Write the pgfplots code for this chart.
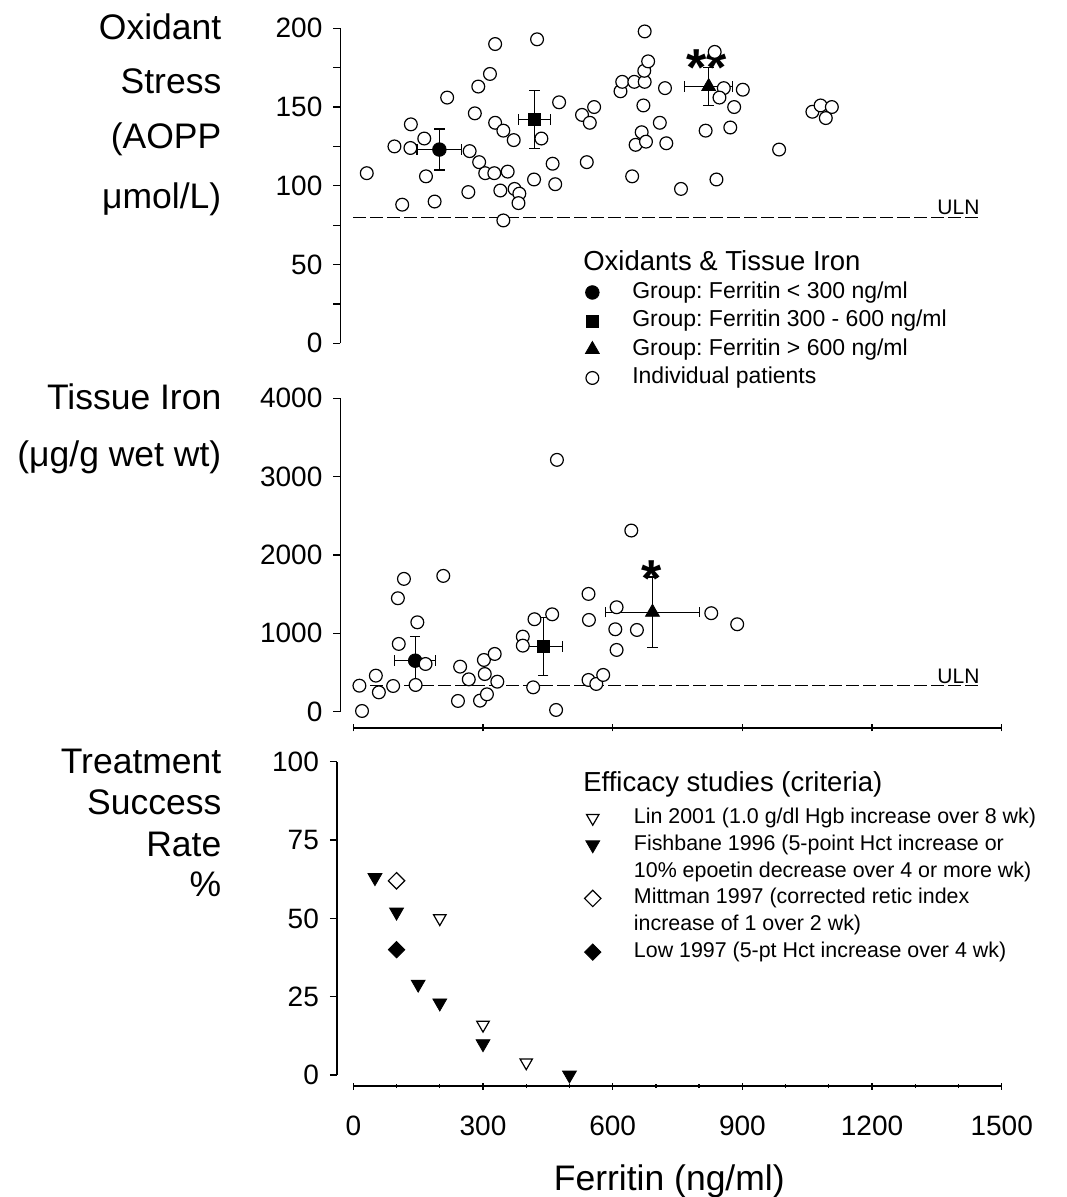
\documentclass[border=0pt]{standalone}
\usepackage{fontspec}
\setmainfont{Liberation Sans}
\usepackage{pgfplots}
\pgfplotsset{compat=1.18}

% 1 px of the reference = 0.5pt
\pgfplotsset{
  panel/.style={scale only axis, clip=false, anchor=south west,
    axis y line=left, axis line style={draw=none,-},
    tick align=outside, major tick length=3.5pt, minor tick length=2pt,
    every tick/.style={black,line width=0.65pt},
    /pgf/number format/assume math mode=true,
    /pgf/number format/1000 sep={},
    tick label style={font=\fontsize{14}{16}\selectfont},
    yticklabel style={xshift=-2pt},
    xticklabel style={yshift=-9.5pt},
    legend image code/.code={\draw[##1] plot coordinates {(0pt,0pt)};},
  },
  indiv/.style={forget plot, only marks, mark=*, mark size=3.2pt,
    mark options={fill=white, draw=black, line width=0.6pt}},
  grp/.style={forget plot, only marks, black,
    error bars/x dir=both, error bars/x explicit,
    error bars/y dir=both, error bars/y explicit,
    error bars/error bar style={line width=0.6pt, black},
    error bars/error mark options={rotate=90, mark size=2.6pt, line width=0.6pt, black}},
  uln/.style={forget plot, black, line width=0.5pt, dash pattern=on 6.5pt off 2pt},
  linmk/.style={only marks, mark=triangle, mark size=3.6pt,
    mark options={rotate=180, black, line width=0.6pt}},
  fishmk/.style={only marks, mark=triangle*, mark size=4pt, mark options={rotate=180, black}},
  mittmk/.style={only marks, mark=square, mark size=2.9pt,
    mark options={rotate=45, black, line width=0.6pt}},
  lowmk/.style={only marks, mark=square*, mark size=2.9pt, mark options={rotate=45, black}},
}
\newcommand{\ttl}{\fontsize{17.75}{20}\selectfont}

\begin{document}
\frenchspacing
\begin{tikzpicture}
\useasboundingbox (0pt,0pt) rectangle (533pt,598.5pt);

% ---------------- top: oxidant stress ----------------
\begin{axis}[panel, at={(170.2pt,426.85pt)}, width=330.65pt, height=157.5pt,
  axis x line=none, xmin=-30, xmax=1500, ymin=0, ymax=200,
  ytick={0,50,...,200}, minor ytick={25,75,125,175}, minor tick length=3.5pt,
  legend style={draw=none, fill=none, at={(axis cs:536,39.5)}, anchor=north west,
    inner sep=0pt, row sep=3.25pt, column sep=16.5pt,
    font=\fontsize{11.5}{13}\selectfont,
    nodes={inner sep=0pt, text height=8.5pt, text depth=2.5pt}},
  legend cell align=left]
  \draw[line width=0.65pt] (axis cs:-30,0) -- (axis cs:-30,200);
  \addplot[uln] coordinates {(0,80) (1454,80)};
  \addplot[grp, mark=*, mark size=3.4pt] coordinates {(199,123) +- (52,13)};
  \addplot[grp, mark=square*, mark size=3pt] coordinates {(419,142) +- (37,18.5)};
  \addplot[grp, mark=triangle*, mark size=4pt] coordinates {(822,163) +- (55,12)};
  \addplot[indiv] coordinates {
    (31,108) (95,125) (133,139) (132,124) (164,130) (168,106) (113,88) (188,90)
    (217,156) (269,122) (266,96) (281,146) (289,163) (291,115) (305,108) (316,171)
    (328,190) (328,140) (326,108) (347,135) (357,109) (340,97) (347,78) (371,129)
    (373,98) (384,95) (382,89) (425,193) (435,130) (418,104) (476,153) (461,114)
    (467,101) (529,145) (557,150) (547,140) (540,115) (618,160) (622,166) (650,166)
    (674,166) (673,173) (682,179) (674,198) (671,151) (721,162) (667,134) (653,126)
    (677,128) (709,140) (724,127) (645,106) (758,98) (815,135) (840,104) (836,185)
    (857,162) (847,156) (881,150) (872,137) (901,161) (985,123) (1062,147) (1081,151)
    (1107,150) (1093,143)};
  \node[anchor=base, font=\fontsize{26}{26}\bfseries, inner sep=0pt] at (axis cs:817,163.5) {**};
  \node[anchor=south east, inner sep=1pt, font=\fontsize{10.5}{12}\selectfont] at (axis cs:1454,80) {ULN};
  \node[anchor=west, inner sep=0pt, font=\fontsize{13.75}{15}\selectfont] at (axis cs:531,52.5) {Oxidants \& Tissue Iron};
  \addlegendimage{only marks, mark=*, black, mark size=3.4pt}
  \addlegendentry{Group: Ferritin < 300 ng/ml}
  \addlegendimage{only marks, mark=square*, black, mark size=3pt}
  \addlegendentry{Group: Ferritin 300 - 600 ng/ml}
  \addlegendimage{only marks, mark=triangle*, black, mark size=4pt}
  \addlegendentry{Group: Ferritin > 600 ng/ml}
  \addlegendimage{only marks, mark=*, mark size=3.2pt, mark options={fill=white, draw=black, line width=0.6pt}}
  \addlegendentry{Individual patients}
\end{axis}

% ---------------- middle: tissue iron ----------------
\begin{axis}[panel, at={(170.2pt,234.5pt)}, width=330.65pt, height=164.85pt,
  axis x line=bottom, xmin=-30, xmax=1500, ymin=-208, ymax=4000,
  ytick={0,1000,...,4000}, xtick={0,300,...,1500}, xticklabels={,,,,,}]
  \draw[line width=0.65pt] (axis cs:-30,0) -- (axis cs:-30,4000);
  \draw[line width=0.65pt] (axis cs:0,-208) -- (axis cs:1500,-208);
  \addplot[uln] coordinates {(0,332) (1454,332)};
  \addplot[grp, mark=*, mark size=3.4pt] coordinates {(143,651) +- (47,305)};
  \addplot[grp, mark=square*, mark size=3pt] coordinates {(439,830) +- (44,372)};
  \addplot[grp, mark=triangle*, mark size=4pt] coordinates {(692,1269) +- (108,449)};
  \addplot[indiv] coordinates {
    (14,332) (20,9) (52,460) (59,247) (92,328) (103,1448) (117,1695) (105,865)
    (148,1141) (144,341) (167,609) (208,1733) (247,575) (242,137) (267,413) (302,660)
    (304,481) (327,737) (333,383) (293,141) (309,222) (392,958) (392,843) (419,1180)
    (416,311) (460,1243) (471,3214) (469,22) (544,1503) (545,1171) (544,405) (562,354)
    (578,469) (643,2312) (609,1333) (606,1052) (609,788) (656,1043) (828,1257) (888,1116)};
  \node[anchor=base, font=\fontsize{26}{26}\bfseries, inner sep=0pt] at (axis cs:690,1470) {*};
  \node[anchor=south east, inner sep=1pt, font=\fontsize{10.5}{12}\selectfont] at (axis cs:1454,332) {ULN};
\end{axis}

% ---------------- bottom: treatment success ----------------
\begin{axis}[panel, at={(168.45pt,55.5pt)}, width=332.4pt, height=162.15pt,
  axis x line=bottom, xmin=-38, xmax=1500, ymin=-3.5, ymax=100,
  ytick={0,25,...,100}, xtick={0,300,...,1500},
  minor xtick={100,200,400,500,700,800,1000,1100,1300,1400},
  xlabel={Ferritin (ng/ml)},
  xlabel style={font=\ttl, yshift=-8pt},
  legend style={draw=none, fill=none, at={(axis cs:534,85.5)}, anchor=north west,
    inner sep=0pt, row sep=2.9pt, column sep=16.5pt,
    font=\fontsize{10.7}{12}\selectfont,
    nodes={inner sep=0pt, text height=8pt, text depth=2.5pt}},
  legend cell align=left]
  \draw[line width=0.65pt] (axis cs:-38,0) -- (axis cs:-38,100);
  \draw[line width=0.65pt] (axis cs:0,-3.5) -- (axis cs:1500,-3.5);
  \addplot[forget plot, linmk] coordinates {(200,50) (300,16) (400,4)};
  \addplot[forget plot, fishmk] coordinates {(50,63) (100,52) (150,29) (200,23) (300,10) (500,0)};
  \addplot[forget plot, mittmk] coordinates {(100,62)};
  \addplot[forget plot, lowmk] coordinates {(100,40)};
  \node[anchor=west, inner sep=0pt, font=\fontsize{13.75}{15}\selectfont] at (axis cs:531,92.6) {Efficacy studies (criteria)};
  \addlegendimage{linmk}
  \addlegendentry{Lin 2001 (1.0 g/dl Hgb increase over 8 wk)}
  \addlegendimage{fishmk}
  \addlegendentry{Fishbane 1996 (5-point Hct increase or}
  \addlegendimage{empty legend}
  \addlegendentry{10\% epoetin decrease over 4 or more wk)}
  \addlegendimage{mittmk}
  \addlegendentry{Mittman 1997 (corrected retic index}
  \addlegendimage{empty legend}
  \addlegendentry{increase of 1 over 2 wk)}
  \addlegendimage{lowmk}
  \addlegendentry{Low 1997 (5-pt Hct increase over 4 wk)}
\end{axis}

% ---------------- left titles ----------------
\begin{scope}[every node/.style={anchor=base east, inner sep=0pt, font=\ttl}]
  \node at (110.85pt,578.5pt) {Oxidant};
  \node at (110.85pt,551.75pt) {Stress};
  \node at (110.85pt,524pt) {(AOPP};
  \node at (110.85pt,494.35pt) {μmol/L)};
  \node at (110.85pt,393.5pt) {Tissue Iron};
  \node at (110.85pt,365.2pt) {(μg/g wet wt)};
  \node at (110.85pt,211.85pt) {Treatment};
  \node at (110.85pt,191pt) {Success};
  \node at (110.85pt,170.15pt) {Rate};
  \node at (110.85pt,150.15pt) {\%};
\end{scope}
\end{tikzpicture}
\end{document}
